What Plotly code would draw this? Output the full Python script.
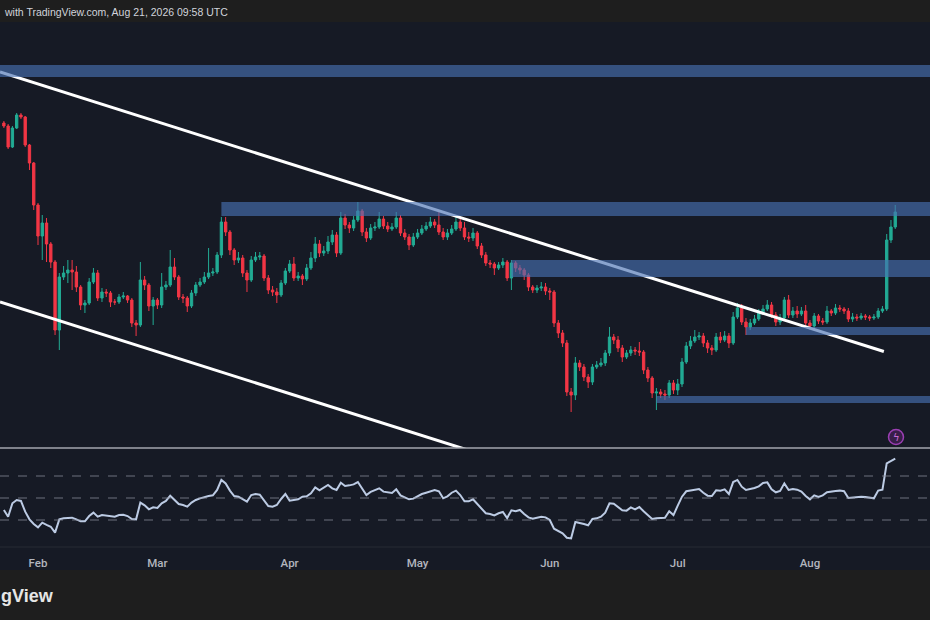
import pandas as pd
import plotly.graph_objects as go

# ------------------------------------------------------------------
# Data (daily candles, chart price units), Jan 24 -> Aug 21 2026
# ------------------------------------------------------------------
first_day = "2026-01-24"
first_open = 325

closes = [
    # Jan
    322, 301, 320, 333, 331, 303, 285, 243,
    # Feb
    212, 225, 204, 186, 118, 171, 175, 178, 176, 161, 143, 145, 166, 175,
    150, 156, 155, 146, 146, 151, 152, 148, 125, 123, 168, 163, 142, 148,
    # Mar
    143, 161, 163, 181, 171, 151, 150, 142, 155, 163, 166, 171, 175, 176,
    193, 226, 216, 198, 188, 190, 175, 168, 188, 191, 192, 170, 158, 156,
    153, 165, 177,
    # Apr
    184, 170, 172, 169, 180, 190, 204, 195, 197, 206, 213, 195, 230, 223,
    220, 228, 237, 216, 210, 220, 221, 229, 222, 219, 221, 230, 215, 211,
    203, 211,
    # May
    215, 219, 222, 226, 223, 216, 211, 215, 219, 226, 220, 211, 210, 215,
    202, 193, 185, 184, 180, 183, 186, 170, 185, 180, 178, 173, 161, 158,
    160, 161, 157,
    # Jun
    156, 125, 115, 105, 56, 53, 85, 81, 71, 66, 81, 83, 85, 95, 111, 108,
    100, 91, 95, 98, 97, 96, 78, 70, 55, 56, 54, 53, 65, 58,
    # Jul
    64, 86, 102, 107, 111, 112, 105, 100, 98, 111, 108, 112, 105, 131, 140,
    126, 121, 125, 129, 135, 139, 143, 133, 126, 130, 148, 133, 137, 134,
    137, 125,
    # Aug
    122, 132, 127, 126, 137, 135, 140, 139, 137, 129, 131, 130, 132, 131,
    130, 131, 137, 139, 208, 221, 236,
]

highs = [
    327, 324, 322, 335, 335, 332, 304, 286,
    245, 233, 230, 206, 188, 175, 182, 188, 188, 182, 163, 148, 170, 180,
    178, 160, 159, 157, 149, 154, 156, 153, 150, 128, 186, 172, 165, 151,
    150, 175, 167, 198, 190, 173, 154, 152, 158, 166, 170, 176, 200, 180,
    196, 231, 231, 218, 200, 196, 193, 178, 192, 196, 196, 194, 173, 162,
    160, 168, 180,
    188, 191, 176, 174, 184, 196, 211, 208, 202, 212, 218, 216, 236, 234,
    226, 232, 246, 239, 220, 224, 226, 236, 232, 226, 225, 236, 233, 219,
    214, 215,
    219, 223, 226, 231, 229, 238, 220, 219, 223, 231, 231, 226, 216, 220,
    217, 205, 196, 188, 186, 186, 190, 188, 188, 187, 183, 180, 175, 163,
    163, 166, 165,
    160, 158, 128, 118, 108, 60, 91, 88, 84, 74, 84, 87, 90, 98, 121, 114,
    112, 103, 98, 102, 101, 106, 98, 81, 72, 60, 59, 58, 68, 68,
    69, 90, 106, 112, 118, 116, 115, 108, 103, 115, 116, 117, 115, 136, 145,
    144, 130, 129, 133, 139, 143, 148, 146, 136, 134, 151, 153, 141, 142,
    141, 143,
    128, 135, 134, 130, 142, 139, 144, 143, 141, 140, 135, 134, 135, 134,
    133, 134, 140, 142, 214, 228, 243,
]

lows = [
    320, 299, 300, 319, 329, 301, 278, 238,
    203, 188, 186, 180, 113, 98, 168, 165, 158, 156, 138, 135, 143, 164,
    147, 146, 151, 141, 143, 144, 149, 145, 121, 112, 121, 158, 137, 123,
    139, 140, 158, 161, 168, 148, 145, 136, 140, 152, 161, 164, 169, 172,
    174, 190, 212, 193, 183, 185, 171, 156, 166, 186, 188, 167, 154, 152,
    145, 151, 163,
    175, 167, 167, 163, 167, 178, 186, 191, 192, 194, 203, 191, 193, 219,
    215, 217, 226, 212, 206, 208, 217, 219, 219, 216, 217, 219, 212, 208,
    198, 201,
    209, 213, 217, 220, 220, 213, 208, 208, 213, 217, 217, 208, 206, 207,
    199, 190, 182, 180, 173, 178, 180, 167, 158, 176, 174, 168, 157, 155,
    155, 157, 153,
    148, 121, 110, 101, 52, 36, 48, 77, 67, 60, 63, 79, 81, 82, 92, 104,
    96, 86, 89, 92, 93, 92, 74, 66, 50, 38, 50, 48, 50, 54,
    53, 61, 84, 99, 105, 108, 101, 95, 93, 96, 105, 106, 100, 103, 129,
    123, 113, 118, 123, 127, 133, 137, 130, 122, 123, 128, 130, 130, 130,
    132, 122,
    118, 120, 124, 123, 124, 132, 133, 136, 134, 126, 126, 127, 128, 128,
    127, 128, 129, 135, 137, 205, 219,
]

rsi = [
    39.1, 33.0, 45.2, 48.2, 47.3, 37.6, 30.6, 26.4,
    23.3, 27.6, 25.5, 23.9, 18.5, 30.6, 31.5, 31.8, 32.1, 30.6, 28.8, 28.8,
    33.6, 36.7, 33.0, 34.5, 33.9, 33.6, 33.0, 34.5, 34.8, 33.6, 30.9, 30.6,
    45.8, 43.3, 39.7, 41.5,
    40.9, 45.2, 47.3, 52.1, 48.2, 44.5, 43.6, 42.1, 45.8, 48.2, 49.7, 50.9,
    51.8, 52.4, 57.3, 66.4, 63.3, 56.7, 51.8, 51.2, 48.8, 46.7, 52.7, 53.6,
    53.0, 47.6, 42.7, 42.1, 43.6, 49.1, 53.6,
    47.6, 48.2, 48.8, 51.2, 51.5, 54.2, 59.7, 57.0, 59.7, 61.8, 58.8, 57.3,
    63.9, 60.9, 61.5, 62.4, 64.5, 58.2, 52.7, 55.5, 57.3, 58.8, 55.8, 54.8,
    54.5, 57.9, 52.4, 50.6, 48.8, 49.4,
    51.8, 53.6, 54.8, 56.1, 57.3, 56.1, 49.7, 51.5, 54.8, 56.7, 52.7, 47.0,
    47.0, 48.8, 44.5, 39.7, 36.1, 35.5, 34.2, 36.1, 37.3, 31.8, 38.8, 37.9,
    39.1, 35.5, 32.4, 31.2, 32.1, 33.0, 32.4,
    30.0, 22.1, 20.0, 17.9, 13.9, 13.3, 28.2, 27.6, 26.4, 25.2, 30.9, 31.5,
    33.0, 36.7, 45.2, 44.8, 41.5, 38.8, 38.5, 41.5, 39.7, 41.8, 37.9, 34.2,
    30.9, 31.5, 31.5, 32.1, 37.9, 34.5,
    43.0, 51.2, 56.1, 57.0, 57.3, 58.2, 54.8, 52.1, 51.8, 57.0, 56.7, 57.9,
    53.6, 64.5, 66.4, 60.3, 57.3, 57.9, 59.1, 60.6, 63.6, 64.2, 57.9, 55.2,
    56.4, 63.3, 57.3, 58.2, 57.6, 55.8, 51.8,
    48.8, 52.4, 50.9, 52.4, 55.2, 56.1, 56.4, 56.7, 56.1, 50.0, 50.6, 50.9,
    51.2, 50.9, 50.6, 49.7, 56.7, 57.6, 81.5, 83.6, 85.8,
]

# horizontal zones: (start date, bottom, top)
zones = [
    ("2026-01-01", 371, 383),
    ("2026-03-16", 232, 246),
    ("2026-05-23", 171, 188),
    ("2026-07-17", 113, 121),
    ("2026-06-26", 45, 52),
]

# channel lines: ((date, price), (date, price))
trend_lines = [
    (("2026-01-23 02:10", 376), ("2026-08-18 08:00", 96.5)),
    (("2026-01-23 02:10", 146), ("2026-05-13 07:00", -2.7)),
]

rsi_levels = [70, 50, 30]

x_range = ["2026-01-23 02:10", "2026-08-29 03:36"]
header_text = "with TradingView.com, Aug 21, 2026 09:58 UTC"
footer_text = "gView"

# ------------------------------------------------------------------
# Styling
# ------------------------------------------------------------------
W, H = 930, 620
BG = "#161a25"
BAR_BG = "#1e1e1e"
UP = "#22ab94"
DOWN = "#f23645"
ZONE = "rgba(72,112,178,0.64)"
FONT = "Liberation Sans, Arial, sans-serif"


def py(px):
    # pixel row -> paper y
    return (H - px) / H


days = pd.date_range(first_day, periods=len(closes), freq="D")
opens = [first_open] + closes[:-1]

fig = go.Figure()

fig.add_trace(
    go.Candlestick(
        x=days,
        open=opens,
        high=highs,
        low=lows,
        close=closes,
        increasing=dict(line=dict(color=UP, width=1), fillcolor=UP),
        decreasing=dict(line=dict(color=DOWN, width=1), fillcolor=DOWN),
        whiskerwidth=0,
        xaxis="x",
        yaxis="y",
        showlegend=False,
        hoverinfo="skip",
    )
)

fig.add_trace(
    go.Scatter(
        x=days,
        y=rsi,
        mode="lines",
        line=dict(color="#bccbe4", width=2),
        xaxis="x2",
        yaxis="y2",
        showlegend=False,
        hoverinfo="skip",
    )
)

shapes = []

# chart background band (between header and footer bars)
shapes.append(dict(
    type="rect", xref="paper", yref="paper",
    x0=0, x1=1, y0=py(570), y1=py(22),
    fillcolor=BG, line=dict(width=0), layer="below",
))

# trend lines (under the zones)
for (xa, ya), (xb, yb) in trend_lines:
    shapes.append(dict(
        type="line", xref="x", yref="y",
        x0=xa, y0=ya, x1=xb, y1=yb,
        line=dict(color="white", width=3), layer="above",
    ))

# zones
for start, lo, hi in zones:
    shapes.append(dict(
        type="rect", xref="x", yref="y",
        x0=start, x1="2026-10-01", y0=lo, y1=hi,
        fillcolor=ZONE, line=dict(width=0), layer="above",
    ))

# rsi levels
for lvl in rsi_levels:
    shapes.append(dict(
        type="line", xref="paper", yref="y2",
        x0=0, x1=1, y0=lvl, y1=lvl,
        line=dict(color="rgba(140,143,155,0.75)", width=1, dash="dash"),
    ))

# pane separator
shapes.append(dict(
    type="line", xref="paper", yref="paper",
    x0=0, x1=1, y0=py(448), y1=py(448),
    line=dict(color="#a3a6ae", width=1.5),
))
# bottom edge of rsi pane
shapes.append(dict(
    type="line", xref="paper", yref="paper",
    x0=0, x1=1, y0=py(547), y1=py(547),
    line=dict(color="#262a35", width=1),
))

# alert icon circle
shapes.append(dict(
    type="circle", xref="paper", yref="paper",
    x0=888.5 / W, x1=903.5 / W, y0=py(444.5), y1=py(429.5),
    fillcolor="rgba(120,40,140,0.35)", line=dict(color="#9b3fb3", width=1.5),
))

annotations = [
    dict(
        text=header_text, xref="paper", yref="paper",
        x=2 / W, y=py(12), xanchor="left", yanchor="middle",
        showarrow=False, font=dict(family=FONT, size=10.5, color="#d1d4dc"),
    ),
    dict(
        text="<b>" + footer_text + "</b>", xref="paper", yref="paper",
        x=-1 / W, y=py(596), xanchor="left", yanchor="middle",
        showarrow=False, font=dict(family=FONT, size=18, color="#e6e6e6"),
    ),
    dict(
        text="ϟ", xref="paper", yref="paper",
        x=896 / W, y=py(437), xanchor="center", yanchor="middle",
        showarrow=False, font=dict(family="DejaVu Sans", size=10, color="#c86dd7"),
    ),
]

fig.update_layout(
    width=W,
    height=H,
    margin=dict(l=0, r=0, t=0, b=0),
    paper_bgcolor=BAR_BG,
    plot_bgcolor=BG,
    showlegend=False,
    hovermode=False,
    boxgap=0.22,
    shapes=shapes,
    annotations=annotations,
    xaxis=dict(
        domain=[0, 1], anchor="y", range=x_range, type="date",
        showticklabels=False, showgrid=False, zeroline=False,
        rangeslider=dict(visible=False), fixedrange=True,
    ),
    yaxis=dict(
        domain=[py(448), py(22)], anchor="x", range=[0, 426],
        showticklabels=False, showgrid=False, zeroline=False, fixedrange=True,
    ),
    xaxis2=dict(
        domain=[0, 1], anchor="y2", range=x_range, type="date",
        tick0="2026-02-01", dtick="M1", tickformat="%b",
        ticks="outside", ticklen=5, tickcolor="rgba(0,0,0,0)",
        tickfont=dict(family="Roboto, Arial, sans-serif", size=11.5,
                      color="#b2b5be", weight=500),
        showgrid=False, zeroline=False, showline=False, fixedrange=True,
    ),
    yaxis2=dict(
        domain=[py(547), py(449)], anchor="x2", range=[5.45, 94.55],
        showticklabels=False, showgrid=False, zeroline=False, fixedrange=True,
    ),
)

fig.write_html(
    "out.html",
    config={"displayModeBar": False},
    post_script="document.body.style.margin='0';document.body.style.overflow='hidden';",
)
